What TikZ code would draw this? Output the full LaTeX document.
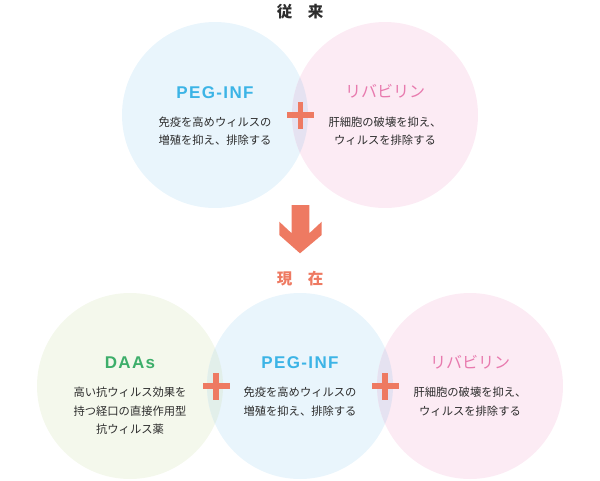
\documentclass[tikz,border=0pt]{standalone}
\usepackage{fontspec}
\setmainfont{Noto Sans CJK JP}
\newfontfamily\jpfont{Noto Sans CJK JP}
\newfontfamily\headfont[LetterSpace=8]{Liberation Sans}
\definecolor{cblue}{RGB}{233,245,252}
\definecolor{cpink}{RGB}{252,235,244}
\definecolor{cgreen}{RGB}{244,248,236}
\definecolor{ovbp}{RGB}{229,226,241}
\definecolor{ovgb}{RGB}{226,239,234}
\definecolor{accent}{RGB}{238,122,98}
\definecolor{tblue}{RGB}{60,180,230}
\definecolor{tpink}{RGB}{232,122,174}
\definecolor{tgreen}{RGB}{61,174,106}
\definecolor{tgray}{RGB}{45,45,45}
\tikzset{
  circ/.style={circle, minimum size=186pt, inner sep=0pt, draw=none},
  headlat/.style={font=\headfont\bfseries\fontsize{17}{17}\selectfont, inner sep=0pt},
  headjp/.style={font=\jpfont\fontsize{16}{16}\selectfont, inner sep=0pt, text=tpink},
  body/.style={font=\jpfont\fontsize{11.3}{18.5}\selectfont, align=center, text=tgray, inner sep=0pt},
  titlebox/.style={font=\jpfont\bfseries\fontsize{15.5}{15.5}\selectfont, inner sep=0pt},
  pics/plussign/.style={code={
    \fill[accent] (-13.5pt,-2.8pt) rectangle (13.5pt,2.8pt);
    \fill[accent] (-2.8pt,-13.5pt) rectangle (2.8pt,13.5pt);
  }}
}
\begin{document}
\begin{tikzpicture}[x=1pt,y=-1pt]
\useasboundingbox (0,0) rectangle (600,480);
% top row
\node[circ, fill=cblue] (t1) at (215,115) {};
\node[circ, fill=cpink] (t2) at (385,115) {};
\begin{scope}
  \clip (t1.center) circle (93);
  \fill[ovbp] (t2.center) circle (93);
\end{scope}
% bottom row
\node[circ, fill=cgreen] (b1) at (130,386) {};
\node[circ, fill=cblue] (b2) at (300,386) {};
\node[circ, fill=cpink] (b3) at (470,386) {};
\begin{scope}
  \clip (b1.center) circle (93);
  \fill[ovgb] (b2.center) circle (93);
\end{scope}
\begin{scope}
  \clip (b2.center) circle (93);
  \fill[ovbp] (b3.center) circle (93);
\end{scope}
% titles
\node[titlebox, text=tgray] (title1) at (300,11.5) {従　来};
\node[titlebox, text=accent] (title2) at (300,279) {現　在};
% top texts
\node[headlat, text=tblue] (h1) at (215,92.7) {PEG-INF};
\node[body] (d1) at (215,131) {免疫を高めウィルスの\\増殖を抑え、排除する};
\node[headjp] (h2) at (385,91) {リバビリン};
\node[body] (d2) at (385,131) {肝細胞の破壊を抑え、\\ウィルスを排除する};
% bottom texts
\node[headlat, text=tgreen] (h3) at (130,362.8) {DAAs};
\node[body] (d3) at (130,411) {高い抗ウィルス効果を\\持つ経口の直接作用型\\抗ウィルス薬};
\node[headlat, text=tblue] (h4) at (300,362.8) {PEG-INF};
\node[body] (d4) at (300,401.5) {免疫を高めウィルスの\\増殖を抑え、排除する};
\node[headjp] (h5) at (470,362) {リバビリン};
\node[body] (d5) at (470,401.5) {肝細胞の破壊を抑え、\\ウィルスを排除する};
% plus signs
\pic at (300.5,115) {plussign};
\pic at (216,386) {plussign};
\pic at (385,386) {plussign};
% arrow
\fill[accent] (291.7,205) -- (309.3,205) -- (309.3,233.3) -- (321.7,221.7) -- (321.7,235)
  -- (300,253.3) -- (279.3,235) -- (279.3,221.7) -- (291.7,233.3) -- cycle;
\end{tikzpicture}
\end{document}
